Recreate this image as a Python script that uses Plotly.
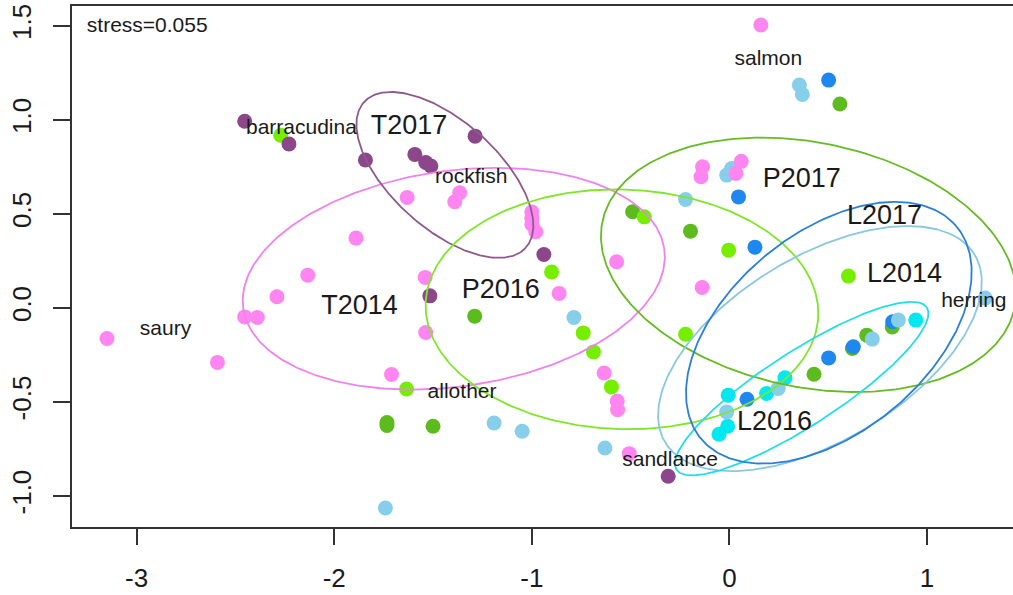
import numpy as np
import plotly.graph_objects as go

# ---------------- data ----------------
groups = ["P2017", "L2017", "L2016", "L2014", "P2016", "T2017", "T2014"]
colors = {
    "T2014": "#FF85F0",
    "T2017": "#8B4789",
    "P2016": "#76EE00",
    "P2017": "#5DBB1F",
    "L2014": "#87CEEB",
    "L2016": "#00E8F0",
    "L2017": "#1E88EE",
}
ell_colors = {
    "T2014": "#EE82EE",
    "T2017": "#8E5A8C",
    "P2016": "#80E62A",
    "P2017": "#66BB22",
    "L2014": "#8AC8E0",
    "L2016": "#22DDE8",
    "L2017": "#2A7FD8",
}

t2014_x = [-1.631, -1.365, -1.390, -1.890, -2.134, -1.540, -2.290, -2.453, -2.389, -1.537,
           -3.150, -2.591, -1.710, -1.000, -1.000, -1.000, -0.980, -0.862, -0.571, -0.634,
           -0.568, -0.566, -0.507, 0.159, -0.136, -0.144, 0.060, 0.033, -0.138]
t2014_y = [0.587, 0.612, 0.564, 0.371, 0.174, 0.162, 0.059, -0.048, -0.051, -0.131,
           -0.163, -0.290, -0.354, 0.510, 0.475, 0.445, 0.405, 0.077, 0.245, -0.346,
           -0.495, -0.541, -0.775, 1.504, 0.750, 0.697, 0.779, 0.715, 0.108]

t2017_x = [-2.453, -2.229, -1.842, -1.592, -1.537, -1.511, -1.287, -1.516, -0.939, -0.310]
t2017_y = [0.992, 0.871, 0.786, 0.816, 0.773, 0.754, 0.913, 0.064, 0.284, -0.895]

p2016_x = [-2.271, -1.634, -0.900, -0.740, -0.688, -0.597, -0.431, -0.004, 0.602, -0.222]
p2016_y = [0.918, -0.431, 0.191, -0.133, -0.234, -0.420, 0.484, 0.307, 0.169, -0.140]

p2017_x = [-1.289, -1.733, -1.733, -1.500, -0.490, -0.197, 0.559, 0.428, 0.622, 0.695, 0.824]
p2017_y = [-0.044, -0.610, -0.625, -0.629, 0.511, 0.408, 1.084, -0.353, -0.216, -0.145, -0.101]

l2014_x = [-1.741, -1.191, -1.049, -0.787, -0.630, -0.222, -0.014, 0.011, 0.354, 0.369,
           -0.014, 0.247, 0.723, 0.855, 1.294]
l2014_y = [-1.064, -0.612, -0.656, -0.051, -0.745, 0.576, 0.706, 0.741, 1.185, 1.135,
           -0.553, -0.429, -0.166, -0.065, 0.052]

l2016_x = [-0.006, -0.009, -0.053, 0.188, 0.281, 0.943]
l2016_y = [-0.464, -0.629, -0.672, -0.455, -0.372, -0.065]

l2017_x = [0.502, 0.046, 0.129, 0.089, 0.502, 0.627, 0.826]
l2017_y = [1.211, 0.590, 0.323, -0.486, -0.266, -0.207, -0.074]

points = {
    "T2014": (t2014_x, t2014_y),
    "T2017": (t2017_x, t2017_y),
    "P2016": (p2016_x, p2016_y),
    "P2017": (p2017_x, p2017_y),
    "L2014": (l2014_x, l2014_y),
    "L2016": (l2016_x, l2016_y),
    "L2017": (l2017_x, l2017_y),
}

# ellipse parameters: centre, semi-axes, rotation (deg)
ell_groups = ["T2014", "T2017", "P2016", "P2017", "L2014", "L2016", "L2017"]
ell_cx = [-1.395, -1.440, -0.544, 0.400, 0.458, 0.3655, 0.503]
ell_cy = [0.155, 0.707, -0.0075, 0.229, -0.2165, -0.429, -0.132]
ell_a = [1.077, 0.5636, 0.994, 1.068, 0.929, 0.766, 0.8587]
ell_b = [0.573, 0.278, 0.637, 0.648, 0.482, 0.194, 0.519]
ell_theta = [8.7, -44.3, -2.0, -13.2, 33.5, 34.4, 42.65]

# group labels
grp_lab = ["T2017", "P2017", "L2017", "L2014", "T2014", "P2016", "L2016"]
grp_lab_x = [-1.621, 0.366, 0.785, 0.886, -1.872, -1.157, 0.228]
grp_lab_y = [0.963, 0.679, 0.484, 0.174, 0.002, 0.090, -0.615]

# species labels
sp_lab = ["barracudina", "rockfish", "salmon", "herring", "saury", "allother", "sandlance"]
sp_lab_x = [-2.166, -1.307, 0.197, 1.237, -2.854, -1.353, -0.300]
sp_lab_y = [0.954, 0.694, 1.321, 0.032, -0.115, -0.450, -0.815]

stress_text = "stress=0.055"
stress_x, stress_y = -3.252, 1.493

x_ticks = [-3, -2, -1, 0, 1]
x_ticktext = ["-3", "-2", "-1", "0", "1"]
y_ticks = [-1.0, -0.5, 0.0, 0.5, 1.0, 1.5]
y_ticktext = ["-1.0", "-0.5", "0.0", "0.5", "1.0", "1.5"]

# ---------------- figure ----------------
fig = go.Figure()

for g in groups:
    xs, ys = points[g]
    fig.add_trace(go.Scatter(x=xs, y=ys, mode="markers",
                             marker=dict(size=15, color=colors[g], line=dict(width=0)),
                             showlegend=False, hoverinfo="skip"))

t = np.linspace(0, 2 * np.pi, 361)
for g, cx, cy, a, b, th in zip(ell_groups, ell_cx, ell_cy, ell_a, ell_b, ell_theta):
    r = np.deg2rad(th)
    ex = cx + a * np.cos(t) * np.cos(r) - b * np.sin(t) * np.sin(r)
    ey = cy + a * np.cos(t) * np.sin(r) + b * np.sin(t) * np.cos(r)
    fig.add_trace(go.Scatter(x=ex, y=ey, mode="lines",
                             line=dict(color=ell_colors[g], width=1.8),
                             showlegend=False, hoverinfo="skip"))

fig.add_trace(go.Scatter(x=grp_lab_x, y=grp_lab_y, mode="text", text=grp_lab,
                         textfont=dict(family="Liberation Sans, Arial", size=27, color="#1a1a1a"),
                         showlegend=False, hoverinfo="skip"))
fig.add_trace(go.Scatter(x=sp_lab_x, y=sp_lab_y, mode="text", text=sp_lab,
                         textfont=dict(family="Liberation Sans, Arial", size=21, color="#1a1a1a"),
                         showlegend=False, hoverinfo="skip"))
fig.add_trace(go.Scatter(x=[stress_x], y=[stress_y], mode="text", text=[stress_text],
                         textposition="middle right",
                         textfont=dict(family="Liberation Sans, Arial", size=21, color="#1a1a1a"),
                         showlegend=False, hoverinfo="skip"))

fig.update_layout(
    width=1013, height=595,
    margin=dict(l=72, r=0, t=6, b=68),
    paper_bgcolor="white", plot_bgcolor="white",
    font=dict(family="Liberation Sans, Arial", color="#1a1a1a"),
)
fig.update_xaxes(range=[-3.327, 1.435], showgrid=False, zeroline=False,
                 showline=True, linecolor="#333333", linewidth=1.6, mirror=True,
                 ticks="outside", ticklen=16, tickwidth=1.6, tickcolor="#333333",
                 tickvals=x_ticks, ticktext=x_ticktext,
                 tickfont=dict(size=26, family="Liberation Sans, Arial", color="#1a1a1a"),
                 ticklabelstandoff=11)
fig.update_yaxes(range=[-1.165, 1.605], showgrid=False, zeroline=False,
                 showline=True, linecolor="#333333", linewidth=1.6, mirror=False,
                 ticks="outside", ticklen=17, tickwidth=1.6, tickcolor="#333333",
                 tickvals=y_ticks, ticktext=y_ticktext, tickangle=-90,
                 tickfont=dict(size=26, family="Liberation Sans, Arial", color="#1a1a1a"),
                 ticklabelstandoff=12)

fig.write_html("out.html")
